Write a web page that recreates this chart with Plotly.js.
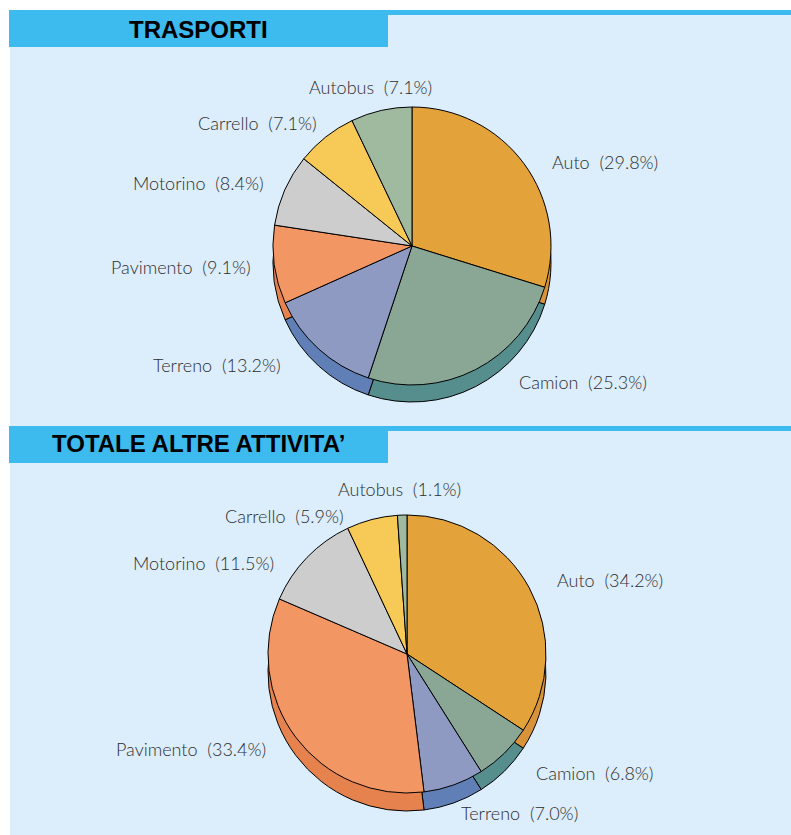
<!DOCTYPE html>
<html>
<head>
<meta charset="utf-8">
<script src="https://cdn.plot.ly/plotly-3.0.1.min.js"></script>
<style>html,body{margin:0;padding:0;background:#fff;}#chart{width:791px;height:835px;}</style>
</head>
<body>
<div id="chart"></div>
<script>
// ---- data ----
const categories = ["Auto", "Camion", "Terreno", "Pavimento", "Motorino", "Carrello", "Autobus"];
const trasportiValues = [29.8, 25.3, 13.2, 9.1, 8.4, 7.1, 7.1];
const altreValues = [34.2, 6.8, 7.0, 33.4, 11.5, 5.9, 1.1];
const titles = ["TRASPORTI", "TOTALE ALTRE ATTIVITA\u2019"];

// ---- styling ----
const faceColors = ["#e3a23a", "#8aa796", "#8e9ac2", "#f29763", "#cdcdcd", "#f7c956", "#9fba9e"];
const sideColors = ["#d8923a", "#568e8d", "#5f7fb6", "#e6824e", "#ababab", "#dcae3e", "#7f9f80"];

const W = 791, H = 835;
const fx = x => x / W;
const fy = y => 1 - y / H;

// pie geometry (pixels): centre, radius, depth
const pies = [
  {cx: 412, cy: 246, r: 139, d: 17, values: trasportiValues},
  {cx: 407, cy: 654, r: 139, d: 18, values: altreValues}
];
// label placement (pixels) for each pie, in category order
const labelPos = [
  [[550,162,"left"],[517,382,"left"],[283,365,"right"],[253,267,"right"],[266,183,"right"],[319,123,"right"],[370,87,"center"]],
  [[555,580,"left"],[534,773,"left"],[459,813,"left"],[268,749,"right"],[276,563,"right"],[346,516,"right"],[400,489,"center"]]
];

const traces = [];
const annotations = [];
pies.forEach((p, k) => {
  const dom = (dy) => ({
    x: [fx(p.cx - p.r), fx(p.cx + p.r)],
    y: [fy(p.cy + dy + p.r), fy(p.cy + dy - p.r)]
  });
  const common = {
    type: "pie", labels: categories, values: p.values, sort: false,
    direction: "clockwise", rotation: 0, textinfo: "none", hoverinfo: "skip",
    showlegend: false
  };
  traces.push(Object.assign({}, common, {
    domain: dom(p.d),
    marker: {colors: sideColors, line: {color: "#000", width: 1}}
  }));
  traces.push(Object.assign({}, common, {
    domain: dom(0),
    marker: {colors: faceColors, line: {color: "#000", width: 1}}
  }));
  categories.forEach((c, i) => {
    const lp = labelPos[k][i];
    annotations.push({
      xref: "paper", yref: "paper", x: fx(lp[0]), y: fy(lp[1]),
      xanchor: lp[2], yanchor: "middle", showarrow: false,
      text: c + "\u00a0\u00a0(" + p.values[i].toFixed(1) + "%)",
      font: {family: "Lato, 'Open Sans', sans-serif", size: 18, weight: 300, color: "#2e2e2e"}
    });
  });
});

// header titles
[[198, 29], [198, 444]].forEach((pos, k) => {
  annotations.push({
    xref: "paper", yref: "paper", x: fx(pos[0]), y: fy(pos[1]),
    xanchor: "center", yanchor: "middle", showarrow: false,
    text: "<b>" + titles[k] + "</b>",
    font: {family: "'Liberation Sans', Arial, sans-serif", size: 24, color: "#000"}
  });
});

const blue = "#3dbaee", pale = "#dcedfc";
const rect = (x0, y0, x1, y1, c) => ({
  type: "rect", xref: "paper", yref: "paper", layer: "below",
  x0: fx(x0), x1: fx(x1), y0: fy(y1), y1: fy(y0),
  fillcolor: c, line: {width: 0}
});
const shapes = [
  rect(10, 15, 791, 835, pale),
  rect(9, 10, 388, 47, blue),
  rect(388, 10, 791, 15, blue),
  rect(9, 426, 388, 463, blue),
  rect(388, 426, 791, 431, blue)
];

const layout = {
  width: W, height: H, autosize: false,
  margin: {l: 0, r: 0, t: 0, b: 0, pad: 0},
  paper_bgcolor: "#ffffff", plot_bgcolor: "rgba(0,0,0,0)",
  shapes: shapes, annotations: annotations, showlegend: false
};
Plotly.newPlot("chart", traces, layout, {displayModeBar: false, staticPlot: true});
</script>
</body>
</html>
